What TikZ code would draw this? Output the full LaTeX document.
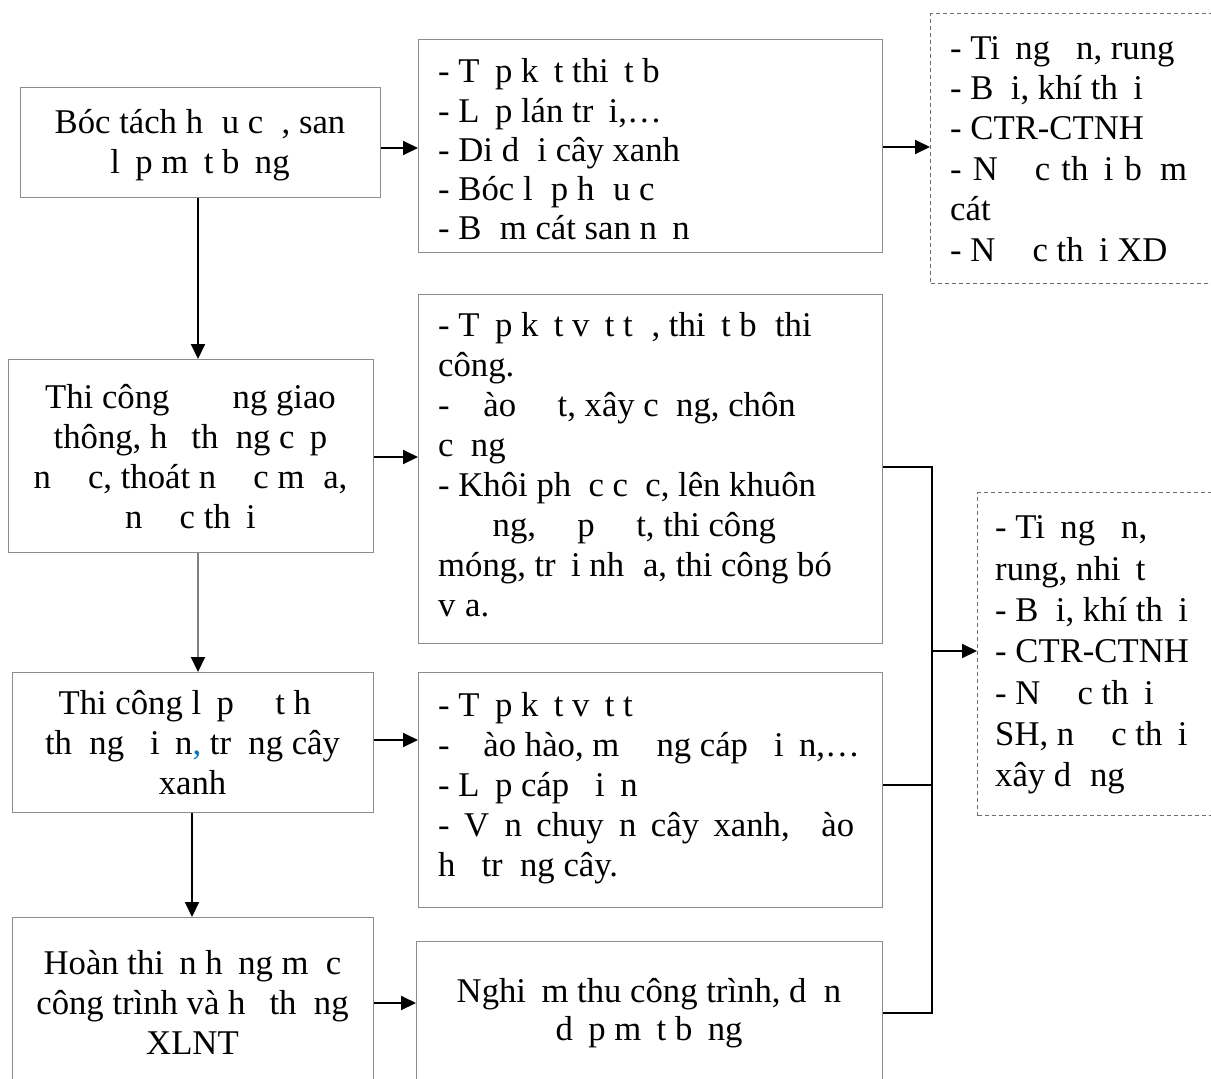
\documentclass[tikz,border=0pt]{standalone}
\usepackage{fontspec}
\setmainfont{Liberation Serif}
\usetikzlibrary{arrows.meta}
\frenchspacing
\newcommand\hid[1]{\phantom{#1}}
\newcommand\natsp{\spaceskip 0pt\xspaceskip 0pt\relax}
\definecolor{boxgray}{RGB}{140,140,140}
\definecolor{dashgray}{RGB}{110,110,110}
\definecolor{commablue}{RGB}{0,112,192}
\definecolor{linegray}{RGB}{128,128,128}
\begin{document}
\begin{tikzpicture}[x=1bp,y=-1bp,
  box/.style={draw=boxgray,line width=1.3bp,inner sep=0,anchor=north west},
  dbox/.style={draw=dashgray,line width=1bp,dash pattern=on 4bp off 3bp,inner sep=0,anchor=north west},
  txt/.style={inner sep=0,font=\fontsize{34.7bp}{40bp}\selectfont},
  ltxt/.style={txt,align=left,anchor=west},
  ctxt/.style={txt,align=center},
  arr/.style={line width=2bp,-{Triangle[length=15bp,width=14bp,color=black]}},
  link/.style={line width=2bp}]
\useasboundingbox (0,0) rectangle (1211,1079);

% boxes
\node[box,minimum width=360bp,minimum height=110bp] (A) at (20,87) {};
\node[box,minimum width=464bp,minimum height=213bp] (B) at (418,39) {};
\node[dbox,minimum width=300bp,minimum height=270bp] (C) at (930,13) {};
\node[box,minimum width=365bp,minimum height=193bp] (D) at (8,359) {};
\node[box,minimum width=464bp,minimum height=349bp] (E) at (418,294) {};
\node[box,minimum width=361bp,minimum height=140bp] (F) at (12,672) {};
\node[box,minimum width=464bp,minimum height=235bp] (G) at (418,672) {};
\node[box,minimum width=361bp,minimum height=200bp] (H) at (12,917) {};
\node[box,minimum width=466bp,minimum height=180bp] (I) at (416,941) {};
\node[dbox,minimum width=260bp,minimum height=323bp] (J) at (977,492) {};

% texts
\node[ctxt] (tA) at (200,145.5) {\strut Bóc tách h\hid{ữ}u c\hid{ơ}, san\\ l\hid{ấ}p m\hid{ặ}t b\hid{ằ}ng\strut};

\node[ltxt,text width=460bp,font=\fontsize{34.7bp}{39.3bp}\selectfont] (tB) at (438,153.5)
 {\natsp\strut - T\hid{ậ}p k\hid{ế}t thi\hid{ế}t b\hid{ị}\\
  - L\hid{ắ}p lán tr\hid{ạ}i,…\\
  - Di d\hid{ờ}i cây xanh\\
  - Bóc l\hid{ớ}p h\hid{ữ}u c\hid{ơ}\\
  - B\hid{ơ}m cát san n\hid{ề}n\strut};

\node[ltxt,text width=255bp,font=\fontsize{34.7bp}{40.4bp}\selectfont] (tC) at (950,152)
 {\natsp\strut - Ti\hid{ế}ng \hid{ồ}n, rung\\
  - B\hid{ụ}i, khí th\hid{ả}i\\
  - CTR-CTNH\\
  \makebox[237bp][s]{- N\hid{ướ}c th\hid{ả}i b\hid{ơ}m}\\
  cát\\
  - N\hid{ướ}c th\hid{ả}i XD\strut};

\node[ctxt] (tD) at (190.5,460.5)
 {\strut Thi công \hid{đườ}ng giao\\
  thông, h\hid{ệ} th\hid{ố}ng c\hid{ấ}p\\
  n\hid{ướ}c, thoát n\hid{ướ}c m\hid{ư}a,\\
  n\hid{ướ}c th\hid{ả}i\strut};

\node[ltxt,text width=460bp] (tE) at (438,468)
 {\natsp\strut - T\hid{ậ}p k\hid{ế}t v\hid{ậ}t t\hid{ư}, thi\hid{ế}t b\hid{ị} thi\\
  công.\\
  - \hid{Đ}ào \hid{đấ}t, xây c\hid{ố}ng, chôn\\
  c\hid{ố}ng\\
  - Khôi ph\hid{ụ}c c\hid{ọ}c, lên khuôn\\
  \hid{đườ}ng, \hid{đắ}p \hid{đấ}t, thi công\\
  móng, tr\hid{ả}i nh\hid{ự}a, thi công bó\\
  v\hid{ỉ}a.\strut};

\node[ctxt] (tF) at (192.5,746)
 {\strut Thi công l\hid{ắ}p \hid{đặ}t h\hid{ệ}\\
  th\hid{ố}ng \hid{đ}i\hid{ệ}n{\color{commablue},} tr\hid{ồ}ng cây\\
  xanh\strut};

\node[ltxt,text width=460bp] (tG) at (438,788)
 {\natsp\strut - T\hid{ậ}p k\hid{ế}t v\hid{ậ}t t\hid{ư}\\
  - \hid{Đ}ào hào, m\hid{ươ}ng cáp \hid{đ}i\hid{ệ}n,…\\
  - L\hid{ắ}p cáp \hid{đ}i\hid{ệ}n\\
  \makebox[416bp][s]{- V\hid{ậ}n chuy\hid{ể}n cây xanh, \hid{đ}ào}\\
  h\hid{ố} tr\hid{ồ}ng cây.\strut};

\node[ctxt] (tH) at (192.5,1006)
 {\strut Hoàn thi\hid{ệ}n h\hid{ạ}ng m\hid{ụ}c\\
  công trình và h\hid{ệ} th\hid{ố}ng\\
  XLNT\strut};

\node[ctxt,font=\fontsize{34.7bp}{38bp}\selectfont] (tI) at (649,1014)
 {\strut Nghi\hid{ệ}m thu công trình, d\hid{ọ}n\\
  d\hid{ẹ}p m\hid{ặ}t b\hid{ằ}ng\strut};

\node[ltxt,text width=225bp,font=\fontsize{34.7bp}{41.3bp}\selectfont] (tJ) at (995,654.5)
 {\natsp\strut - Ti\hid{ế}ng \hid{ồ}n,\\
  rung, nhi\hid{ệ}t\\
  - B\hid{ụ}i, khí th\hid{ả}i\\
  - CTR-CTNH\\
  - N\hid{ướ}c th\hid{ả}i\\
  SH, n\hid{ướ}c th\hid{ả}i\\
  xây d\hid{ự}ng\strut};

% connectors
\draw[arr] (A.east |- 0,148) -- (B.west |- 0,148);
\draw[arr] (B.east |- 0,147) -- (C.west |- 0,147);
\draw[arr] (A.south -| 198,0) -- (D.north -| 198,0);
\draw[arr] (D.east |- 0,457) -- (E.west |- 0,457);
\draw[arr,draw=linegray] (D.south -| 198,0) -- (F.north -| 198,0);
\draw[arr] (F.east |- 0,740) -- (G.west |- 0,740);
\draw[arr] (F.south -| 192,0) -- (H.north -| 192,0);
\draw[arr] (H.east |- 0,1003) -- (I.west |- 0,1003);

\coordinate (bt) at (932,467);
\coordinate (bm) at (932,651);
\coordinate (bb) at (932,1013);
\draw[link] (E.east |- bt) -- (bt) -- (bb) -- (I.east |- bb);
\draw[link] (G.east |- 0,785) -- (bt |- 0,785);
\draw[arr] (bm) -- (J.west |- bm);
\end{tikzpicture}
\end{document}
